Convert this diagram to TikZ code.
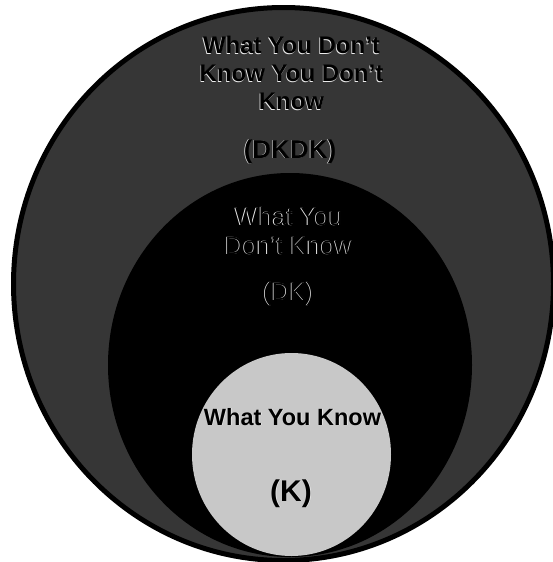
\documentclass[tikz,border=0pt]{standalone}
\usepackage{fontspec}
\setmainfont{Liberation Sans}
\definecolor{outerfill}{RGB}{54,54,54}
\definecolor{innerfill}{RGB}{200,200,200}
\definecolor{shadowcol}{RGB}{235,235,235}
\newcommand{\embtext}[8]{% name, x, y, dx, dy, font, colour, text
  \node[font=#6, text=shadowcol, anchor=base, inner sep=0pt] (#1s) at (#2+#4,#3+#5) {#8};
  \node[font=#6, text=#7, anchor=base, inner sep=0pt] (#1) at (#2,#3) {#8};}
\begin{document}
\begin{tikzpicture}[x=1pt,y=-1pt]
\useasboundingbox (0,0) rectangle (552,562);
\fill[white] (0,0) rectangle (552,562);
\tikzset{
  outerring/.style={fill=outerfill, draw=black, line width=5pt},
  midring/.style={fill=black},
  innerring/.style={fill=innerfill},
}
\path[outerring] (283.5,284) ellipse [x radius=270, y radius=276.5];
\path[midring] (290,365) ellipse [x radius=182, y radius=192];
\path[innerring] (291.5,454.5) ellipse [x radius=99.5, y radius=101.5];
% outer texts
\embtext{o1}{291.5}{53.3}{-0.7}{0.7}{\bfseries\fontsize{24}{28}\selectfont}{black}{What You Don’t}
\embtext{o2}{291.5}{81.7}{-0.7}{0.7}{\bfseries\fontsize{24}{28}\selectfont}{black}{Know You Don’t}
\embtext{o3}{291.5}{109.3}{-0.7}{0.7}{\bfseries\fontsize{24}{28}\selectfont}{black}{Know}
\embtext{o4}{290}{158}{-0.7}{0.7}{\bfseries\fontsize{26}{30}\selectfont}{black}{(DKDK)}
% middle texts
\embtext{m1}{289}{225}{-0.8}{0.7}{\fontsize{25}{29}\selectfont}{black}{What You}
\embtext{m2}{289}{254}{-0.8}{0.7}{\fontsize{25}{29}\selectfont}{black}{Don’t Know}
\embtext{m3}{289}{300}{-0.8}{0.7}{\fontsize{25}{29}\selectfont}{black}{(DK)}
% inner texts
\embtext{i1}{292.5}{425}{0.7}{0.7}{\bfseries\fontsize{23.5}{28}\selectfont}{black}{What You Know}
\embtext{i2}{291}{501}{0.7}{0.7}{\bfseries\fontsize{30}{34}\selectfont}{black}{(K)}
\end{tikzpicture}
\end{document}
